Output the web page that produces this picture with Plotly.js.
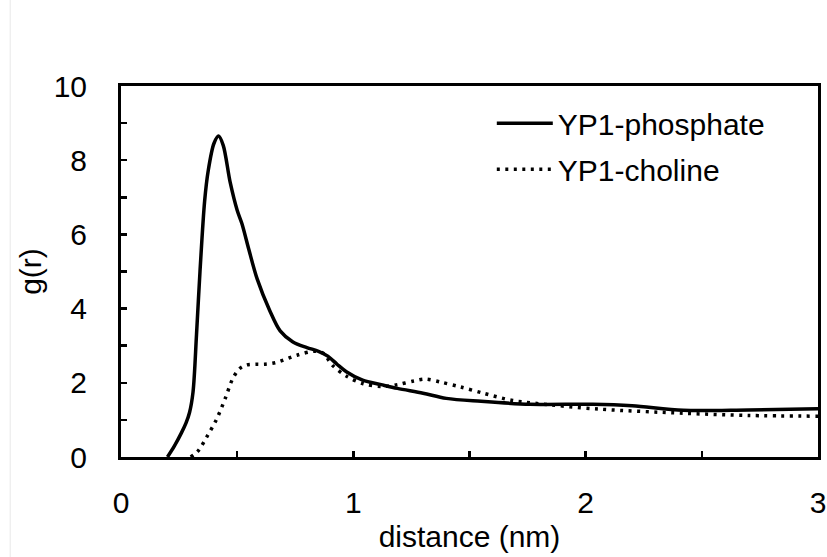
<!DOCTYPE html>
<html>
<head>
<meta charset="utf-8">
<script src="https://cdn.plot.ly/plotly-3.0.1.min.js"></script>
<style>html,body{margin:0;padding:0;background:#fff;}#chart{width:827px;height:557px;}</style>
</head>
<body>
<div id="chart"></div>
<script>
var phosphateX = [0.20,0.23,0.26,0.28,0.295,0.31,0.325,0.34,0.36,0.375,0.40,0.42,0.44,0.47,0.50,0.52,0.55,0.586,0.64,0.685,0.74,0.80,0.85,0.89,0.93,0.97,1.04,1.12,1.19,1.30,1.40,1.55,1.76,2.03,2.2,2.42,2.7,3.0];
var phosphateY = [0,0.3,0.65,0.92,1.2,1.75,3.3,5.0,6.9,7.7,8.45,8.65,8.4,7.4,6.65,6.3,5.6,4.8,3.95,3.4,3.1,2.95,2.85,2.72,2.5,2.3,2.07,1.95,1.85,1.72,1.58,1.5,1.42,1.42,1.38,1.26,1.27,1.3];
var cholineX = [0.30,0.33,0.37,0.41,0.45,0.48,0.51,0.54,0.58,0.62,0.67,0.76,0.83,0.87,0.91,0.97,1.04,1.12,1.19,1.26,1.31,1.375,1.46,1.56,1.68,1.78,2.06,2.42,2.7,3.0];
var cholineY = [0,0.15,0.55,1.0,1.6,2.1,2.38,2.48,2.5,2.5,2.55,2.75,2.85,2.8,2.47,2.18,1.98,1.9,1.95,2.05,2.1,2.02,1.89,1.72,1.53,1.45,1.29,1.18,1.12,1.1];
var seriesNames = ["YP1-phosphate", "YP1-choline"];
var xTickVals = [0,1,2,3];
var yTickVals = [0,2,4,6,8,10];

var font = "Liberation Sans, Arial, sans-serif";
var fs = 30;
var traces = [
  {x: phosphateX, y: phosphateY, name: seriesNames[0], mode: "lines", legendgroup: "a",
   line: {color: "#000", width: 3.5, shape: "spline", smoothing: 0.9}},
  {x: cholineX, y: cholineY, name: seriesNames[1], mode: "lines", legendgroup: "b",
   line: {color: "#000", width: 3.5, dash: "3px,5.5px", shape: "spline", smoothing: 0.9}}
];
var layout = {
  width: 827, height: 557,
  margin: {l: 121, r: 9, t: 86, b: 100},
  paper_bgcolor: "#fff", plot_bgcolor: "#fff",
  font: {family: font, size: fs, color: "#000"},
  showlegend: true,
  legend: {x: 0.532, y: 0.97, xanchor: "left", yanchor: "top", bgcolor: "rgba(0,0,0,0)",
           font: {family: font, size: fs, color: "#000"}, itemwidth: 56, tracegroupgap: 4, traceorder: "grouped"},
  xaxis: {range: [0, 3], tickvals: xTickVals, ticktext: xTickVals.map(String),
          ticks: "inside", ticklen: 6, tickwidth: 2.5, tickcolor: "#000",
          minor: {dtick: 0.5, ticks: "inside", ticklen: 6, tickwidth: 2.5, tickcolor: "#000"},
          showline: true, linewidth: 3, linecolor: "#000", mirror: true,
          showgrid: false, zeroline: false, ticklabelstandoff: 17,
          tickfont: {family: font, size: fs, color: "#000"},
          title: {text: "distance (nm)", font: {family: font, size: fs, color: "#000"}, standoff: 8}},
  yaxis: {range: [0, 10], tickvals: yTickVals, ticktext: yTickVals.map(String),
          ticks: "inside", ticklen: 6, tickwidth: 2.5, tickcolor: "#000",
          minor: {dtick: 1, ticks: "inside", ticklen: 6, tickwidth: 2.5, tickcolor: "#000"},
          showline: true, linewidth: 3, linecolor: "#000", mirror: true,
          showgrid: false, zeroline: false, ticklabelstandoff: 25,
          tickfont: {family: font, size: fs, color: "#000"},
          title: {text: "g(r)", font: {family: font, size: fs, color: "#000"}, standoff: 4}},
  shapes: [{type: "line", xref: "paper", yref: "paper", x0: -0.159, x1: -0.159, y0: -0.27, y1: 1.232,
            line: {color: "#e8e8e8", width: 1}}]
};
Plotly.newPlot("chart", traces, layout, {displayModeBar: false, staticPlot: true});
</script>
</body>
</html>
